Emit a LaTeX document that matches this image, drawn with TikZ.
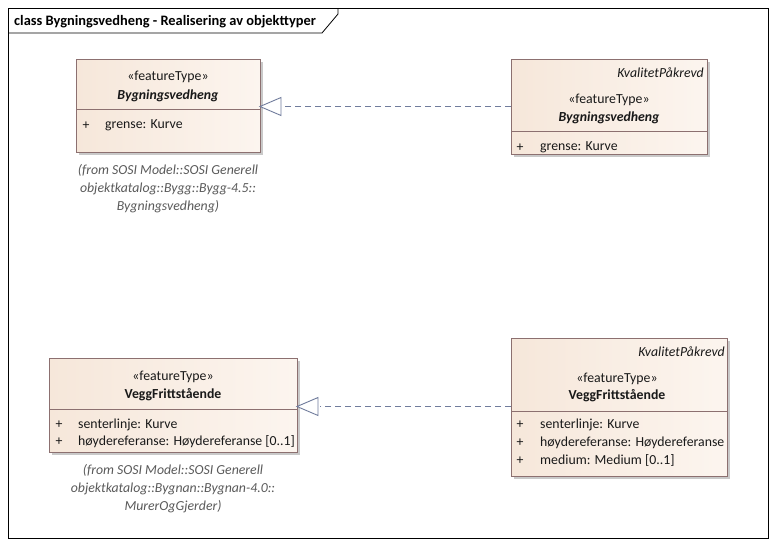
\documentclass[tikz,border=0pt]{standalone}
\usepackage{fontspec}
\setmainfont{Carlito}
\usetikzlibrary{shadows}
\definecolor{bord}{RGB}{140,112,112}
\definecolor{fillA}{RGB}{246,231,218}
\definecolor{fillB}{RGB}{252,245,239}
\definecolor{conn}{RGB}{112,124,156}
\definecolor{fromc}{RGB}{90,90,90}
\definecolor{txt}{RGB}{25,25,25}
\newcommand{\fsz}{\fontsize{13.8}{16}\selectfont}
\tikzset{
  cls/.style={draw=bord, line width=0.9pt, left color=fillA, right color=fillB,
    inner sep=0pt, outer sep=0pt, anchor=north west,
    drop shadow={shadow xshift=2.5pt, shadow yshift=-2.5pt, fill=black!35, opacity=0.6}},
  sep/.style={draw=bord, line width=0.9pt},
  lbl/.style={inner sep=0pt, text=txt, yshift=-1.5pt},
  stereo/.style={lbl},
  fromtxt/.style={lbl, text=fromc, font=\fontsize{13.8}{18}\selectfont\itshape, align=center},
  realize/.style={draw=conn, line width=0.9pt, dash pattern=on 6pt off 4pt},
  tri/.style={draw=conn, line width=0.9pt, fill=white}
}
\begin{document}
\begin{tikzpicture}[x=1pt,y=-1pt, font=\fsz]
\useasboundingbox[fill=white] (0,0) rectangle (776,547);
% frame
\draw[black, line width=0.8pt] (8,8) rectangle (768,538);
\draw[black, line width=0.8pt] (8,33) -- (322,33) -- (338,14) -- (338,8);
\node[lbl, anchor=west, text=black, font=\fontsize{14.4}{16}\selectfont\bfseries] (title) at (14,20.5) {class Bygningsvedheng - Realisering av objekttyper};

% Box 1
\node[cls, minimum width=184pt, minimum height=93pt] (b1) at (76,59) {};
\draw[sep] (76,109) -- (260,109);
\node[stereo] (b1s) at (168,75) {«featureType»};
\node[lbl, font=\fsz\bfseries\itshape] (b1n) at (168,94) {Bygningsvedheng};
\node[lbl] (b1p) at (86,124) {+};
\node[lbl, anchor=west] (b1a) at (105,124) {grense: Kurve};
\node[fromtxt] (b1f) at (168,187) {(from SOSI Model::SOSI Generell\\objektkatalog::Bygg::Bygg-4.5::\\Bygningsvedheng)};

% Box 2
\node[cls, minimum width=196pt, minimum height=95pt] (b2) at (511,59) {};
\draw[sep] (511,131) -- (707,131);
\node[lbl, anchor=east, font=\fsz\itshape] (b2k) at (704,71) {KvalitetPåkrevd};
\node[stereo] (b2s) at (609,98) {«featureType»};
\node[lbl, font=\fsz\bfseries\itshape] (b2n) at (609,116) {Bygningsvedheng};
\node[lbl] (b2p) at (520,146) {+};
\node[lbl, anchor=west] (b2a) at (540,146) {grense: Kurve};

% Box 3
\node[cls, minimum width=248pt, minimum height=94pt] (b3) at (49,358) {};
\draw[sep] (49,409) -- (297,409);
\node[stereo] (b3s) at (173,375) {«featureType»};
\node[lbl, font=\fsz\bfseries] (b3n) at (173,393) {VeggFrittstående};
\node[lbl] (b3p1) at (59,423) {+};
\node[lbl, anchor=west] (b3a1) at (78,423) {senterlinje: Kurve};
\node[lbl] (b3p2) at (59,440.5) {+};
\node[lbl, anchor=west] (b3a2) at (78,440.5) {høydereferanse: Høydereferanse [0..1]};
\node[fromtxt] (b3f) at (173,487) {(from SOSI Model::SOSI Generell\\objektkatalog::Bygnan::Bygnan-4.0::\\MurerOgGjerder)};

% Box 4
\node[cls, minimum width=216pt, minimum height=138pt] (b4) at (511,338) {};
\draw[sep] (511,411) -- (727,411);
\node[lbl, anchor=east, font=\fsz\itshape] (b4k) at (725,350) {KvalitetPåkrevd};
\node[stereo] (b4s) at (617,377) {«featureType»};
\node[lbl, font=\fsz\bfseries] (b4n) at (617,394) {VeggFrittstående};
\node[lbl] (b4p1) at (520,423) {+};
\node[lbl, anchor=west] (b4a1) at (540,423) {senterlinje: Kurve};
\node[lbl] (b4p2) at (520,441) {+};
\node[lbl, anchor=west] (b4a2) at (540,441) {høydereferanse: Høydereferanse};
\node[lbl] (b4p3) at (520,459) {+};
\node[lbl, anchor=west] (b4a3) at (540,459) {medium: Medium [0..1]};

% Realization 1
\coordinate (t1) at (260,106.5);
\draw[realize] (b2.west |- t1) -- ([xshift=23pt]t1);
\draw[tri] (t1) -- ++(21,-9) -- ++(0,18) -- cycle;

% Realization 2
\coordinate (t2) at (297,406.5);
\draw[realize] (b4.west |- t2) -- ([xshift=23pt]t2);
\draw[tri] (t2) -- ++(21,-9) -- ++(0,18) -- cycle;
\end{tikzpicture}
\end{document}
